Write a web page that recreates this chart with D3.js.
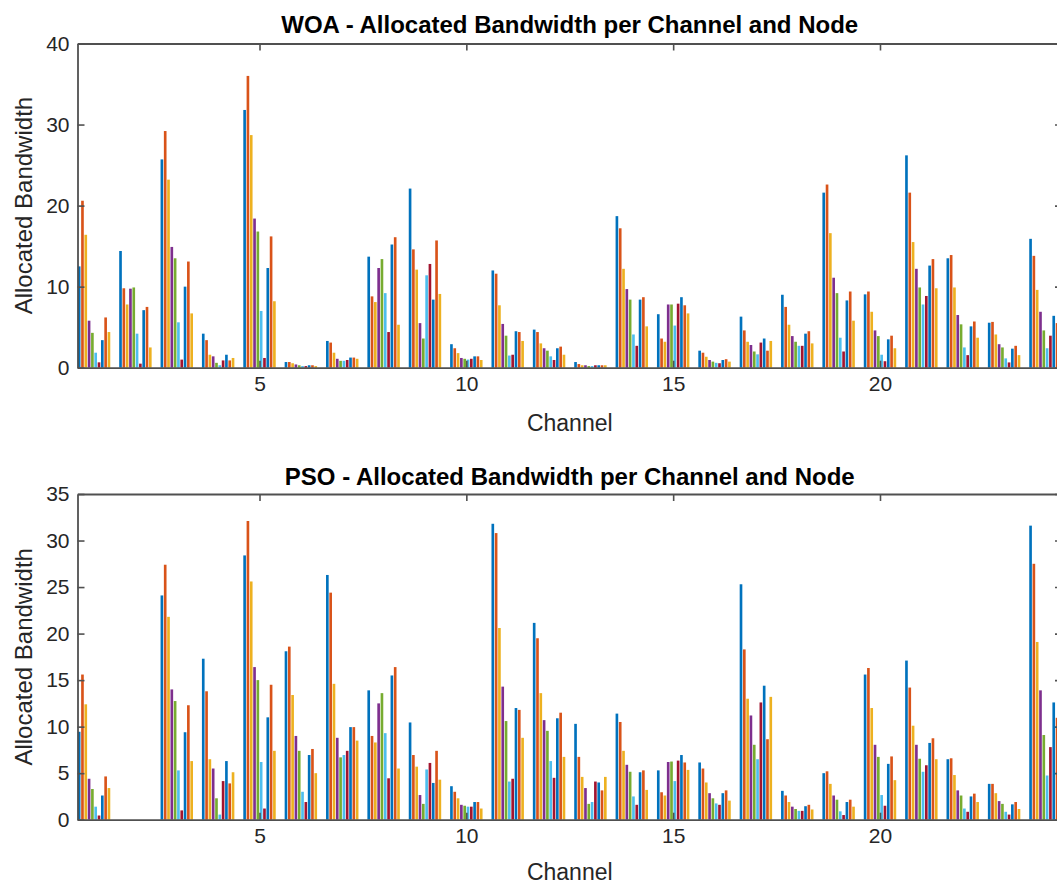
<!DOCTYPE html>
<html>
<head>
<meta charset="utf-8">
<script src="https://cdn.jsdelivr.net/npm/d3@7"></script>
<style>
  html, body { margin: 0; padding: 0; background: #ffffff; overflow: hidden; }
  svg { display: block; font-family: "Liberation Sans", Arial, Helvetica, sans-serif; }
</style>
</head>
<body>
<svg id="chart" width="1057" height="886"></svg>
<script>
// Channels on the x axis and nodes (one bar per node inside each channel group)
const channels = d3.range(1, 25);
const nodes = d3.range(1, 11);
const xTicks = [5, 10, 15, 20];

// WOA: bandwidth per channel (rows) for nodes 1..10
const woaBandwidth = [
  [12.5, 20.6, 16.4, 5.8, 4.3, 1.85, 0.66, 3.4, 6.2, 4.4],
  [14.4, 9.8, 7.8, 9.75, 9.9, 4.2, 0.5, 7.1, 7.5, 2.5],
  [25.7, 29.2, 23.2, 14.9, 13.5, 5.6, 1.0, 10.0, 13.1, 6.7],
  [4.2, 3.4, 1.6, 1.4, 0.6, 0.3, 0.9, 1.6, 0.9, 1.2],
  [31.8, 36.0, 28.7, 18.4, 16.8, 7.0, 1.2, 12.3, 16.2, 8.2],
  [0.7, 0.7, 0.55, 0.4, 0.3, 0.2, 0.2, 0.3, 0.3, 0.2],
  [3.3, 3.1, 1.85, 1.1, 0.85, 0.85, 0.95, 1.25, 1.25, 1.1],
  [13.7, 8.8, 8.1, 12.3, 13.4, 9.2, 4.4, 15.2, 16.1, 5.3],
  [22.1, 14.6, 12.1, 5.5, 3.6, 11.4, 12.8, 8.4, 15.7, 9.1],
  [2.9, 2.4, 1.8, 1.2, 1.1, 1.0, 1.1, 1.4, 1.4, 0.95],
  [12.0, 11.6, 7.7, 5.4, 3.95, 1.5, 1.6, 4.5, 4.4, 3.3],
  [4.7, 4.4, 3.0, 2.4, 2.1, 1.4, 0.95, 2.4, 2.6, 1.6],
  [0.7, 0.45, 0.3, 0.3, 0.2, 0.2, 0.3, 0.3, 0.3, 0.3],
  [18.7, 17.2, 12.2, 9.7, 8.4, 4.1, 2.7, 8.4, 8.7, 5.1],
  [6.6, 3.6, 3.2, 7.8, 7.8, 5.2, 7.9, 8.7, 7.7, 6.7],
  [2.1, 1.85, 1.35, 0.95, 0.75, 0.6, 0.55, 0.95, 1.05, 0.75],
  [6.3, 4.6, 3.2, 2.8, 2.0, 1.65, 3.1, 3.6, 2.1, 3.3],
  [9.0, 7.5, 5.3, 3.9, 3.2, 2.7, 2.7, 4.2, 4.5, 3.0],
  [21.6, 22.6, 16.6, 11.1, 9.2, 3.7, 2.0, 8.3, 9.4, 5.8],
  [9.05, 9.4, 6.9, 4.6, 3.9, 1.6, 0.8, 3.5, 3.95, 2.4],
  [26.2, 21.6, 15.5, 12.2, 9.9, 7.8, 8.85, 12.6, 13.4, 9.8],
  [13.5, 13.9, 9.9, 6.5, 5.35, 2.5, 1.55, 5.1, 5.7, 3.7],
  [5.55, 5.65, 4.1, 2.9, 2.5, 1.15, 0.65, 2.35, 2.7, 1.55],
  [15.9, 13.8, 9.6, 6.9, 4.6, 2.4, 3.95, 6.4, 5.5, 4.5]
];

// PSO: bandwidth per channel (rows) for nodes 1..10
const psoBandwidth = [
  [9.45, 15.6, 12.4, 4.4, 3.3, 1.4, 0.45, 2.6, 4.65, 3.4],
  [0, 0, 0, 0, 0, 0, 0, 0, 0, 0],
  [24.1, 27.4, 21.8, 14.0, 12.75, 5.3, 1.0, 9.4, 12.3, 6.3],
  [17.3, 13.8, 6.5, 5.5, 2.3, 0.55, 4.15, 6.3, 3.9, 5.1],
  [28.4, 32.1, 25.6, 16.4, 15.0, 6.2, 1.2, 11.0, 14.5, 7.4],
  [18.1, 18.6, 13.4, 9.0, 7.4, 3.0, 1.9, 6.95, 7.6, 5.0],
  [26.3, 24.4, 14.6, 8.8, 6.7, 6.95, 7.4, 9.95, 9.95, 8.5],
  [13.9, 9.0, 8.3, 12.5, 13.6, 9.3, 4.45, 15.5, 16.4, 5.5],
  [10.45, 6.95, 5.7, 2.65, 1.7, 5.4, 6.1, 3.95, 7.4, 4.3],
  [3.6, 3.0, 2.3, 1.6, 1.5, 1.4, 1.4, 1.9, 1.9, 1.2],
  [31.8, 30.8, 20.6, 14.3, 10.6, 4.1, 4.4, 12.0, 11.8, 8.8],
  [21.15, 19.5, 13.6, 10.7, 9.55, 6.3, 4.5, 10.9, 11.5, 6.75],
  [10.3, 6.75, 4.6, 3.4, 1.7, 1.9, 4.1, 4.0, 3.15, 4.6],
  [11.4, 10.5, 7.4, 5.9, 5.15, 2.5, 1.6, 5.1, 5.3, 3.2],
  [5.3, 2.95, 2.6, 6.2, 6.25, 4.15, 6.35, 6.95, 6.15, 5.35],
  [6.15, 5.5, 4.0, 2.85, 2.3, 1.75, 1.6, 2.85, 3.15, 2.05],
  [25.3, 18.3, 13.0, 11.2, 8.05, 6.5, 12.6, 14.4, 8.65, 13.2],
  [3.1, 2.6, 1.9, 1.4, 1.15, 0.95, 0.95, 1.45, 1.6, 1.1],
  [5.0, 5.2, 3.85, 2.6, 2.15, 0.9, 0.5, 1.9, 2.15, 1.4],
  [15.6, 16.3, 12.0, 8.05, 6.75, 2.65, 1.5, 6.0, 6.8, 4.25],
  [17.1, 14.2, 10.1, 8.05, 6.55, 5.15, 5.85, 8.25, 8.75, 6.5],
  [6.5, 6.6, 4.8, 3.15, 2.6, 1.2, 0.85, 2.5, 2.8, 1.9],
  [3.85, 3.85, 2.85, 2.0, 1.7, 0.85, 0.55, 1.65, 1.9, 1.15],
  [31.6, 27.5, 19.1, 13.9, 9.1, 4.75, 7.8, 12.6, 10.95, 6.0]
];

const woaYTicks = [0, 10, 20, 30, 40];
const psoYTicks = [0, 5, 10, 15, 20, 25, 30, 35];

// Default 7-colour cycle used for the node series
const seriesColors = ["#0072BD", "#D95319", "#EDB120", "#7E2F8E", "#77AC30", "#4DBEEE", "#A2142F"];

const svg = d3.select("#chart");
const axisColor = "#262626";
const frameColor = "#505050";

const plotLeft = 77.5, plotRight = 1062;
const groupWidth = 0.8;
const slot = groupWidth / nodes.length;
const barWidth = slot * 0.8;

function drawPanel(opts) {
  const { title, data, yMax, yTicks, top, bottom, titleY, xLabelY } = opts;

  const x = d3.scaleLinear().domain([0.6, 24.4]).range([plotLeft, plotRight]);
  const y = d3.scaleLinear().domain([0, yMax]).range([bottom, top]);

  const g = svg.append("g");

  // Bars: one group per channel, one bar per node
  const rows = channels.map((c, ci) => ({ channel: c, values: data[ci] }));
  const groups = g.append("g").selectAll("g").data(rows).join("g");
  groups.selectAll("rect")
    .data(d => d.values.map((v, ni) => ({ channel: d.channel, node: ni, value: v })))
    .join("rect")
    .attr("x", d => x(d.channel - groupWidth / 2 + slot * (d.node + 0.5) - barWidth / 2))
    .attr("width", d => x(barWidth) - x(0))
    .attr("y", d => y(d.value))
    .attr("height", d => Math.max(0, y(0) - y(d.value)))
    .attr("fill", d => seriesColors[d.node % seriesColors.length]);

  const tickLen = 7;

  // Bottom axis with inward ticks and labels
  const xAxis = d3.axisBottom(x).tickValues(xTicks).tickSizeInner(-tickLen).tickSizeOuter(0).tickPadding(8);
  const gx = g.append("g").attr("transform", `translate(0,${bottom})`).call(xAxis);
  // Top axis: ticks only
  const gxTop = g.append("g").attr("transform", `translate(0,${top})`)
    .call(d3.axisTop(x).tickValues(xTicks).tickSizeInner(-tickLen).tickSizeOuter(0).tickFormat(""));
  // Left axis with labels
  const yAxis = d3.axisLeft(y).tickValues(yTicks).tickSizeInner(-tickLen).tickSizeOuter(0).tickPadding(8);
  const gy = g.append("g").attr("transform", `translate(${plotLeft},0)`).call(yAxis);
  // Right axis: ticks only
  const gyRight = g.append("g").attr("transform", `translate(${plotRight},0)`)
    .call(d3.axisRight(y).tickValues(yTicks).tickSizeInner(-tickLen).tickSizeOuter(0).tickFormat(""));

  [gx, gxTop, gy, gyRight].forEach(a => {
    a.select(".domain").attr("stroke", frameColor).attr("stroke-width", 1.8);
    a.selectAll(".tick line").attr("stroke", frameColor).attr("stroke-width", 1.6);
    a.selectAll(".tick text")
      .attr("fill", axisColor)
      .style("font-size", "21px")
      .style("font-family", "'Liberation Sans', Arial, Helvetica, sans-serif");
  });

  // Title
  svg.append("text")
    .attr("x", (plotLeft + plotRight) / 2)
    .attr("y", titleY)
    .attr("text-anchor", "middle")
    .attr("dominant-baseline", "central")
    .attr("font-weight", "bold")
    .attr("font-size", "24px")
    .attr("fill", "#000")
    .text(title);

  // X label
  svg.append("text")
    .attr("x", (plotLeft + plotRight) / 2)
    .attr("y", xLabelY)
    .attr("text-anchor", "middle")
    .attr("dominant-baseline", "central")
    .attr("font-size", "23px")
    .attr("fill", axisColor)
    .text("Channel");

  // Y label
  svg.append("text")
    .attr("transform", `translate(23,${(top + bottom) / 2}) rotate(-90)`)
    .attr("text-anchor", "middle")
    .attr("dominant-baseline", "central")
    .attr("font-size", "24px")
    .attr("fill", axisColor)
    .text("Allocated Bandwidth");
}

drawPanel({
  title: "WOA - Allocated Bandwidth per Channel and Node",
  data: woaBandwidth, yMax: 40, yTicks: woaYTicks,
  top: 43.5, bottom: 367.7, titleY: 24, xLabelY: 423
});

drawPanel({
  title: "PSO - Allocated Bandwidth per Channel and Node",
  data: psoBandwidth, yMax: 35, yTicks: psoYTicks,
  top: 494, bottom: 819.7, titleY: 476, xLabelY: 872
});
</script>
</body>
</html>
